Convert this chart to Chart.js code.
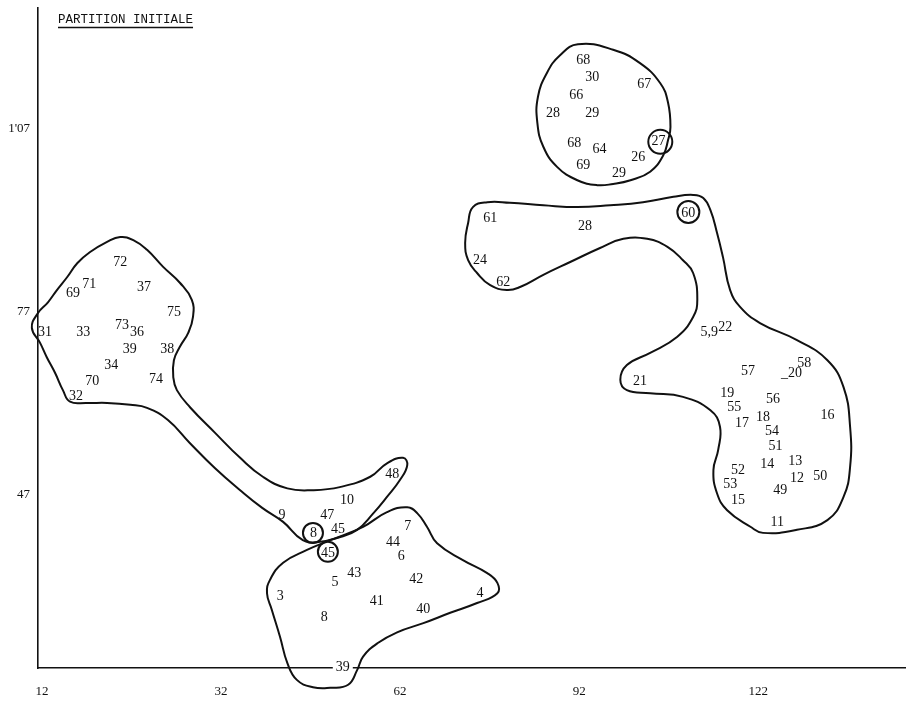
<!DOCTYPE html>
<html><head><meta charset="utf-8">
<script src="https://cdn.jsdelivr.net/npm/chart.js@4.4.0/dist/chart.umd.min.js"></script>
<style>html,body{margin:0;padding:0;background:#fff;} #wrap{width:912px;height:706px;position:relative;}</style>
</head><body><div id="wrap"><canvas id="c"></canvas></div>
<script>
// ---- axis ticks ----
const xTickValues = [2, 32, 62, 92, 122];
const xTickLabels = ['12', '32', '62', '92', '122'];
const yTickValues = [47, 77, 107];
const yTickLabels = ['47', '77', "1'07"];
const titleText = 'PARTITION INITIALE';

// ---- labelled individuals ----
const pointLabels = ['72','71','69','37','75','31','33','73','36','39','38','34','70','74','32',
  '48','10','9','47','45','8','7','44','6','45','43','5','42','3','41','4','40','8','39',
  '68','30','67','66','28','29','27','68','64','26','69','29',
  '61','28','60','24','62',
  '5,9','22','21','57','_20','58','19','56','55','18','17','16','54','51','14','13','52','12','50','53','49','15','11'];
const pointX = [15.1,9.9,7.2,19.1,24.1,2.5,8.9,15.4,17.9,16.7,23.0,13.6,10.4,21.1,7.7,
  60.7,53.1,42.2,49.8,51.6,47.5,63.3,60.8,62.2,49.9,54.3,51.1,64.7,41.9,58.1,75.4,65.9,49.3,52.4,
  92.7,94.2,102.9,91.5,87.6,94.2,105.3,91.2,95.4,101.9,92.7,98.7,
  77.1,93.0,110.3,75.4,79.3,
  113.8,116.5,102.2,120.3,127.6,129.7,116.8,124.5,118.0,122.8,119.3,133.6,124.3,124.9,123.5,128.2,118.6,128.5,132.4,117.3,125.7,118.6,125.2];
const pointY = [85.2,81.6,80.0,81.1,77.0,73.6,73.6,74.9,73.6,70.9,70.9,68.2,65.7,65.9,63.2,
  50.4,46.2,43.7,43.7,41.4,40.7,41.8,39.3,37.0,37.5,34.1,32.7,33.2,30.4,29.6,30.9,28.3,27.0,18.7,
  118.3,115.4,114.4,112.6,109.5,109.5,105.0,104.7,103.7,102.4,101.1,99.8,
  92.3,91.1,93.2,85.4,81.9,
  73.6,74.5,65.7,67.2,67.0,68.6,63.6,62.7,61.3,59.8,58.8,60.1,57.5,55.0,52.1,52.6,51.1,49.8,50.0,48.8,47.7,46.2,42.6];

// ---- small circled individuals ----
const circleX = [47.4, 49.9, 105.6, 110.3];
const circleY = [40.8, 37.7, 104.9, 93.4];

// ---- class outlines (closed curves) ----
const shapeAX = [0.3,1.3,3.0,4.5,6.2,7.9,10.0,12.9,15.1,17.3,19.6,22.3,25.1,27.1,27.3,26.5,25.1,24.1,24.0,24.6,26.8,31.0,35.2,39.0,43.1,47.4,51.9,57.0,59.8,62.5,63.2,62.0,59.8,57.5,54.8,51.6,48.3,45.7,42.4,38.9,35.2,31.0,26.8,23.1,19.6,16.8,12.9,9.5,6.7,5.5,4.2,2.8,1.7];
const shapeAY = [74.4,76.8,78.6,80.6,82.7,85.0,86.8,88.5,89.3,88.8,87.2,84.4,81.8,79.0,76.2,73.6,71.3,69.1,66.3,64.2,61.4,57.2,53.1,50.0,48.1,47.8,48.3,50.0,52.2,53.1,51.9,49.5,46.7,44.0,41.3,40.0,39.3,39.6,42.6,44.9,47.8,51.4,55.5,59.3,61.3,61.8,62.1,62.1,62.3,64.2,67.0,69.6,71.9];

const shapeBX = [46.4,42.4,40.2,39.7,40.5,41.9,43.1,44.7,47.4,50.3,53.3,54.8,55.8,58.2,61.5,65.9,70.4,74.9,78.3,78.3,76.6,72.6,68.2,66.5,64.9,63.2,59.8,55.8,50.3];
const shapeBY = [38.0,35.9,33.1,30.9,28.2,23.7,19.5,16.7,15.5,15.4,15.9,18.3,20.5,22.7,24.5,26.0,27.7,29.3,30.9,32.6,34.2,36.3,39.1,41.8,44.0,45.0,44.2,41.8,39.6];

const shapeCX = [91.8,97.7,102.2,105.6,106.9,107.3,106.9,106.1,103.9,100.6,97.7,95.0,91.7,88.3,86.0,85.0,85.1,86.6,88.8];
const shapeCY = [120.9,120.0,117.8,114.5,111.3,107.3,105.2,102.7,100.0,98.6,98.0,97.8,98.6,100.8,104.1,108.0,112.3,116.2,119.1];

const shapeDX = [74.2,76.6,80.4,86.0,91.7,97.2,102.7,107.8,111.1,112.8,114.0,115.1,116.1,117.3,119.0,122.3,128.5,133.6,136.3,137.4,137.4,136.3,133.6,128.5,122.8,120.7,116.8,115.1,114.5,115.3,115.6,114.0,109.4,103.9,100.0,98.9,100.0,103.9,108.4,111.1,111.8,111.1,109.4,106.8,103.4,99.4,95.5,90.5,86.0,82.1,79.9,77.1,74.9,73.4,72.9,73.4];
const shapeDY = [94.2,95.0,94.9,94.5,94.2,94.5,95.0,95.9,96.2,95.7,93.7,90.0,86.0,80.6,77.8,75.2,72.4,69.1,64.7,58.2,51.6,46.7,42.9,41.3,40.8,41.8,44.5,47.3,51.1,54.4,58.2,60.9,63.1,63.7,64.2,65.9,68.3,70.3,72.9,76.2,79.0,83.4,85.5,87.7,89.0,89.0,87.5,85.2,83.1,81.1,80.6,81.4,83.4,85.5,88.3,91.6];

// ---- build datasets ----
function loopDataset(xs, ys) {
  const pts = xs.map((x, i) => ({x: x, y: ys[i]}));
  const n = pts.length;
  const data = [pts[n - 1], ...pts, pts[0], pts[1]];
  const len = data.length;
  return {
    type: 'scatter', data: data, showLine: true, tension: 0.45,
    borderColor: '#111', borderWidth: 2, pointRadius: 0, fill: false, clip: false,
    segment: { borderColor: ctx => (ctx.p0DataIndex === 0 || ctx.p0DataIndex === len - 2) ? 'rgba(0,0,0,0)' : undefined }
  };
}

const labelDataset = {
  type: 'scatter',
  data: pointX.map((x, i) => ({x: x, y: pointY[i]})),
  pointRadius: 0, clip: false
};
const circleDataset = {
  type: 'scatter',
  data: circleX.map((x, i) => ({x: x, y: circleY[i]})),
  pointRadius: [10, 10, 12, 11], pointBorderWidth: 2, pointBorderColor: '#111',
  pointBackgroundColor: 'rgba(0,0,0,0)', clip: false
};

const datasets = [
  loopDataset(shapeAX, shapeAY), loopDataset(shapeBX, shapeBY),
  loopDataset(shapeCX, shapeCY), loopDataset(shapeDX, shapeDY),
  circleDataset, labelDataset
];
const LABEL_INDEX = datasets.length - 1;

const labelPlugin = {
  id: 'pointLabels',
  afterDatasetsDraw(chart) {
    const meta = chart.getDatasetMeta(LABEL_INDEX);
    const ctx = chart.ctx;
    ctx.save();
    ctx.font = '14px "Liberation Serif"';
    ctx.textAlign = 'center';
    ctx.textBaseline = 'middle';
    meta.data.forEach((el, i) => {
      const t = pointLabels[i];
      if (t === '39' && Math.abs(el.y - chart.chartArea.bottom) < 3) {
        const w = ctx.measureText(t).width;
        ctx.fillStyle = '#fff';
        ctx.fillRect(el.x - w / 2 - 3, el.y - 3, w + 6, 6);
      }
      ctx.fillStyle = '#111';
      ctx.fillText(t, el.x, el.y);
    });
    ctx.restore();
  }
};

const titlePlugin = {
  id: 'handTitle',
  afterDraw(chart) {
    const ctx = chart.ctx;
    const a = chart.chartArea;
    ctx.save();
    ctx.font = '12.5px "Liberation Mono"';
    ctx.fillStyle = '#111';
    ctx.textAlign = 'left';
    ctx.textBaseline = 'alphabetic';
    const x0 = a.left + 20, y0 = a.top + 15;
    ctx.fillText(titleText, x0, y0);
    const w = ctx.measureText(titleText).width;
    ctx.strokeStyle = '#111';
    ctx.lineWidth = 1.5;
    ctx.beginPath();
    ctx.moveTo(x0, y0 + 4.5);
    ctx.lineTo(x0 + w, y0 + 4.5);
    ctx.stroke();
    ctx.restore();
  }
};

new Chart(document.getElementById('c'), {
  type: 'scatter',
  data: { datasets: datasets },
  plugins: [labelPlugin, titlePlugin],
  options: {
    responsive: true, maintainAspectRatio: false, animation: false, events: [],
    layout: { autoPadding: false, padding: { top: 8, right: 7, left: 0, bottom: 0 } },
    elements: { line: { capBezierPoints: false, borderJoinStyle: 'round', borderCapStyle: 'round' } },
    plugins: { legend: { display: false }, tooltip: { enabled: false }, title: { display: false } },
    scales: {
      x: {
        type: 'linear', min: 1.33, max: 146.6,
        afterBuildTicks: s => { s.ticks = xTickValues.map(v => ({value: v})); },
        afterFit: s => { s.height = 38; s.paddingLeft = 0; s.paddingRight = 0; },
        grid: { display: false, drawTicks: false },
        border: { display: true, color: '#111', width: 1.6 },
        ticks: {
          autoSkip: false, maxRotation: 0, padding: 16, color: '#111',
          font: { family: '"Liberation Serif"', size: 13 },
          callback: v => { const i = xTickValues.indexOf(v); return i >= 0 ? xTickLabels[i] : ''; }
        }
      },
      y: {
        type: 'linear', min: 18.65, max: 126.84,
        afterBuildTicks: s => { s.ticks = yTickValues.map(v => ({value: v})); },
        afterFit: s => { s.width = 38; s.paddingTop = 0; s.paddingBottom = 0; },
        grid: { display: false, drawTicks: false },
        border: { display: true, color: '#111', width: 1.6 },
        ticks: {
          autoSkip: false, padding: 8, color: '#111',
          font: { family: '"Liberation Serif"', size: 13 },
          callback: v => { const i = yTickValues.indexOf(v); return i >= 0 ? yTickLabels[i] : ''; }
        }
      }
    }
  }
});
</script></body></html>
